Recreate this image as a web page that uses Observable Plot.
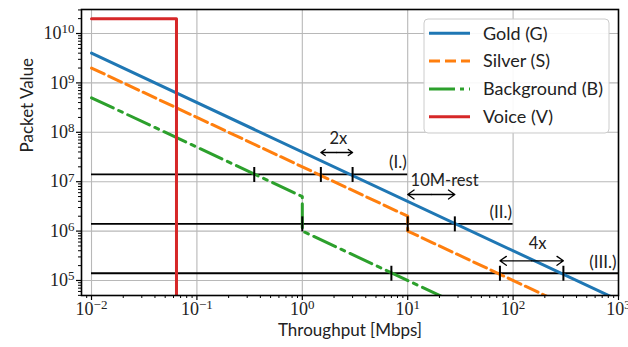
<!DOCTYPE html>
<html><head><meta charset="utf-8">
<script src="https://cdn.jsdelivr.net/npm/d3@7"></script>
<script src="https://cdn.jsdelivr.net/npm/@observablehq/plot@0.6"></script>
<style>body{margin:0;background:#fff}</style>
</head><body><div id="chart"></div>
<script>
// ---- data ----
const seriesNames = ["Gold (G)", "Silver (S)", "Background (B)", "Voice (V)"];
const seriesColors = ["#1f77b4", "#ff7f0e", "#2ca02c", "#d62728"];
const seriesDash = [null, "14,5", "24,6,4,6", null];
const goldT = [0.01, 1000];            const goldV = [4e9, 4e4];
const silverT = [0.01, 10, 10, 1000];  const silverV = [2e9, 2e6, 1e6, 1e4];
const backgroundT = [0.01, 1, 1, 1000]; const backgroundV = [5e8, 5e6, 1e6, 1e3];
const voiceT = [0.01, 0.064, 0.064];   const voiceV = [2e10, 2e10, 1e3];
const levelV = [1.4e7, 1.4e6, 1.4e5];
const levelStart = [0.01, 0.01, 0.01];
const levelEnd = [10, 100, 1000];
const levelLabels = ["(I.)", "(II.)", "(III.)"];
const levelLabelT = [9.8, 98, 960];
const levelLabelV = [2.45e7, 2.4e6, 2.3e5];
const levelMarks = [[0.35, 1.5, 3], [1, 10, 28], [7, 75, 300]];
const spanLabels = ["2x", "10M-rest", "4x"];
const spanFrom = [1.5, 10, 75];
const spanTo = [3, 28, 300];
const spanArrowV = [3.9e7, 5.5e6, 2.5e5];
const spanTextT = [2.2, 22.4, 171];
const spanTextV = [7.4e7, 1.05e7, 5.6e5];
const xTickExp = [-2, -1, 0, 1, 2, 3];
const yTickExp = [5, 6, 7, 8, 9, 10];
const xLabel = "Throughput [Mbps]";
const yLabel = "Packet Value";

// ---- derived tables ----
const seriesT = [goldT, silverT, backgroundT, voiceT];
const seriesV = [goldV, silverV, backgroundV, voiceV];
const lines = seriesNames.map((name, i) => seriesT[i].map((t, j) => ({name, t, v: seriesV[i][j]})));
const levels = levelV.map((v, i) => ({v, x1: levelStart[i], x2: levelEnd[i]}));
const marksPts = levelMarks.flatMap((arr, i) => arr.map(t => ({t, v: levelV[i]})));
const levelText = levelLabels.map((s, i) => ({s, t: levelLabelT[i], v: levelLabelV[i]}));
const spans = spanLabels.map((s, i) => ({s, x1: spanFrom[i], x2: spanTo[i], v: spanArrowV[i], tt: spanTextT[i], tv: spanTextV[i]}));
const halfArrows = spans.flatMap(d => { const m = Math.sqrt(d.x1 * d.x2); return [{x1: m, x2: d.x1, v: d.v}, {x1: m, x2: d.x2, v: d.v}]; });
const xMajor = xTickExp.map(e => Math.pow(10, e));
const yMajor = yTickExp.map(e => Math.pow(10, e));
const minorOf = (exps) => { const out = []; for (let e = exps[0] - 1; e <= exps[exps.length - 1]; e++) for (let k = 2; k <= 9; k++) out.push(k * Math.pow(10, e)); return out; };
const xDomain = [Math.pow(10, -2.095), 1000];
const yDomain = [Math.pow(10, 4.696), Math.pow(10, 10.486)];
const xMinor = minorOf(xTickExp).filter(d => d > xDomain[0] && d < xDomain[1]);
const yMinor = minorOf(yTickExp).filter(d => d > yDomain[0] && d < yDomain[1]);

const vbar = {draw(ctx, size) { const h = Math.sqrt(size / Math.PI); ctx.moveTo(0, -h); ctx.lineTo(0, h); }};
const sans = "Lato, 'Open Sans', sans-serif";
const supFmt = d => "10^" + String(Math.round(Math.log10(d))).replace("-", "\u2212");

const chart = Plot.plot({
  width: 628, height: 347,
  marginLeft: 81, marginRight: 10, marginTop: 9, marginBottom: 52,
  x: {type: "log", domain: xDomain},
  y: {type: "log", domain: yDomain},
  style: {fontFamily: sans, background: "#fff"},
  marks: [
    Plot.gridX(xMajor, {stroke: "#b8b8b8", strokeOpacity: 1, strokeWidth: 1.1}),
    Plot.gridY(yMajor, {stroke: "#b8b8b8", strokeOpacity: 1, strokeWidth: 1.1}),
    Plot.ruleY(levels, {y: "v", x1: "x1", x2: "x2", stroke: "black", strokeWidth: 1.8}),
    ...lines.map((pts, i) => Plot.line(pts, {x: "t", y: "v", stroke: seriesColors[i], strokeWidth: 3, strokeDasharray: seriesDash[i], clip: true})),
    Plot.dot(marksPts, {x: "t", y: "v", r: 7.5, symbol: vbar, stroke: "black", strokeWidth: 2, fill: "none"}),
    Plot.arrow(halfArrows, {x1: "x1", x2: "x2", y1: "v", y2: "v", stroke: "black", strokeWidth: 1.3, headLength: 9, headAngle: 70}),
    Plot.text(spans, {x: "tt", y: "tv", text: "s", fontSize: 16.5, fill: "#222"}),
    Plot.text(levelText, {x: "t", y: "v", text: "s", textAnchor: "end", fontSize: 17, fill: "#222"}),
    Plot.axisX(xMinor, {tickSize: 3, tickFormat: () => "", strokeWidth: 1}),
    Plot.axisY(yMinor, {tickSize: 3, tickFormat: () => "", strokeWidth: 1}),
    Plot.axisX(xMajor, {tickSize: 5, tickPadding: 2, tickFormat: supFmt, fontSize: 18, label: null, strokeWidth: 1.2}),
    Plot.axisY(yMajor, {tickSize: 5, tickPadding: 2, tickFormat: supFmt, fontSize: 18, label: null, strokeWidth: 1.2}),
    Plot.frame({stroke: "black", strokeWidth: 1.6}),
    Plot.text([xLabel], {frameAnchor: "bottom", dy: 40, text: d => d, fontSize: 17, fill: "#222"}),
    Plot.text([yLabel], {frameAnchor: "left", dx: -54, rotate: -90, text: d => d, fontSize: 17, fill: "#222"})
  ]
});

// superscript tick labels, serif font
const svg = d3.select(chart);
svg.selectAll("g[aria-label$='tick label'] text").each(function() {
  const t = d3.select(this);
  const s = t.text();
  if (!s) { t.remove(); return; }
  const [base, exp] = s.split("^");
  t.text(base).style("font-family", "'Liberation Serif', 'DejaVu Serif', serif").style("fill", "#222");
  t.append("tspan").attr("dy", "-0.45em").attr("font-size", "13px").text(exp);
});

// legend
const lg = svg.append("g").attr("font-family", sans).attr("font-size", 18).attr("text-anchor", "start");
lg.append("rect").attr("x", 424).attr("y", 19).attr("width", 185).attr("height", 114).attr("rx", 4)
  .attr("fill", "white").attr("fill-opacity", 0.9).attr("stroke", "#cccccc");
seriesNames.forEach((name, i) => {
  const y = 33.3 + i * 27.8;
  lg.append("line").attr("x1", 429).attr("x2", 470).attr("y1", y).attr("y2", y)
    .attr("stroke", seriesColors[i]).attr("stroke-width", 3)
    .attr("stroke-dasharray", i === 1 ? "11,5" : (i === 2 ? "26,5,4,5" : null));
  lg.append("text").attr("x", 483).attr("y", y).attr("dy", "0.35em").attr("fill", "#222")
    .style("font-size", "18px").text(name);
});

document.getElementById("chart").appendChild(chart);
</script>
</body></html>
